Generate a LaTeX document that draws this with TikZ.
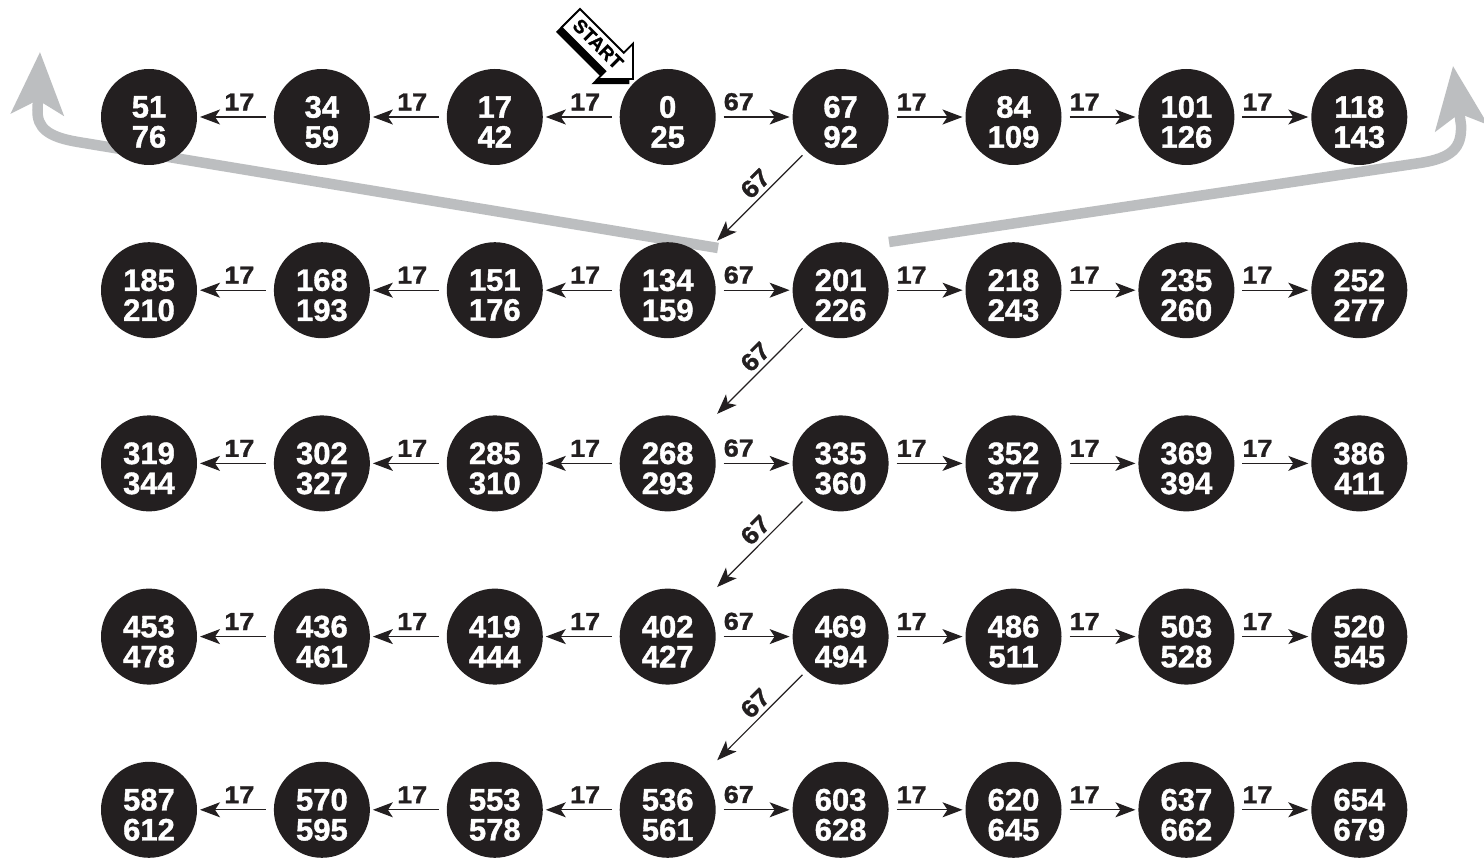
\documentclass[tikz,border=0pt]{standalone}
\usepackage{fontspec}
\setmainfont{Liberation Sans}
\newfontfamily\heavyfont{Liberation Sans}[BoldFeatures={FakeBold=1.2}]
\newfontfamily\widefont{Liberation Sans}[BoldFeatures={FakeBold=1.2,FakeStretch=1.1}]
\usetikzlibrary{arrows.meta}
\definecolor{nodeblack}{RGB}{35,31,32}
\definecolor{arrowgray}{RGB}{188,190,192}
\begin{document}
\begin{tikzpicture}[x=1pt,y=-1pt,
  dot/.style={circle,fill=nodeblack,minimum size=96pt,inner sep=0pt,outer sep=0pt},
  num/.style={text=white,align=center,font=\fontsize{31}{30}\heavyfont\bfseries,inner sep=0pt},
  link/.style={draw=nodeblack,line width=1.2pt,-{Stealth[length=20pt,width=15pt,inset=5pt]},shorten <=8pt,shorten >=3pt},
  diaglink/.style={link,shorten <=6pt,shorten >=22pt},
  lbl/.style={font=\fontsize{24.5}{24}\widefont\bfseries,text=nodeblack,anchor=south,inner sep=0pt,yshift=6pt},
  dlbl/.style={font=\fontsize{24.5}{24}\widefont\bfseries,text=nodeblack,anchor=south,inner sep=4pt,rotate=45},
  grayarrow/.style={draw=arrowgray,line width=10.5pt,-{Stealth[length=62pt,width=52pt,inset=14pt]}},
  startshadow/.style={fill=black,draw=black,line width=1.5pt,line join=miter},
  startbody/.style={fill=white,draw=black,line width=1.8pt,line join=miter}]
\fill[white] (0,0) rectangle (1484,858);
\useasboundingbox (0,0) rectangle (1484,858);

% gray exit arrows
\draw[grayarrow] (718,248) -- (78,142) .. controls (48,137) and (37,128) .. (37.5,110) -- (40,52);
\draw[grayarrow] (889,242) -- (1420,163) .. controls (1452,158) and (1462,148) .. (1461,125) -- (1453,66);

% nodes
\foreach \r in {0,...,4} {
  \foreach \c/\off in {0/51,1/34,2/17,3/0,4/67,5/84,6/101,7/118} {
    \pgfmathtruncatemacro\va{134*\r+\off}
    \pgfmathtruncatemacro\vb{\va+25}
    \node[dot] (n\r\c) at ({149+172.9*\c},{117+173.2*\r}) {};
    \node[num] (t\r\c) at ([yshift=-5pt]n\r\c.center) {\va\\\vb};
  }
}

% horizontal connectors
\foreach \r in {0,...,4} {
  \draw[link] (n\r3) -- node[lbl,pos=0.45]{17} (n\r2);
  \draw[link] (n\r2) -- node[lbl,pos=0.45]{17} (n\r1);
  \draw[link] (n\r1) -- node[lbl,pos=0.45]{17} (n\r0);
  \draw[link] (n\r3) -- node[lbl,pos=0.3]{67} (n\r4);
  \draw[link] (n\r4) -- node[lbl,pos=0.3]{17} (n\r5);
  \draw[link] (n\r5) -- node[lbl,pos=0.3]{17} (n\r6);
  \draw[link] (n\r6) -- node[lbl,pos=0.3]{17} (n\r7);
}
% diagonal connectors
\foreach \r [evaluate=\r as \s using int(\r+1)] in {0,...,3} {
  \draw[diaglink] (n\r4) -- node[dlbl,pos=0.4]{67} (n\s3);
}

% START arrow (tip at 633,79; pointing down-right)
\path[startshadow,shift={(-4.5,4.5)}] (633,79) -- (633,43.6) -- (623.8,52.8) -- (580,9.0)
  -- (561.6,27.4) -- (605.4,71.2) -- (597.6,79) -- cycle;
\path[startbody] (633,79) -- (633,43.6) -- (623.8,52.8) -- (580,9.0)
  -- (561.6,27.4) -- (605.4,71.2) -- (597.6,79) -- cycle;
\node[rotate=-45,font=\fontsize{19}{19}\heavyfont\bfseries,inner sep=0pt] (starttext) at (598,44) {START};
\end{tikzpicture}
\end{document}
